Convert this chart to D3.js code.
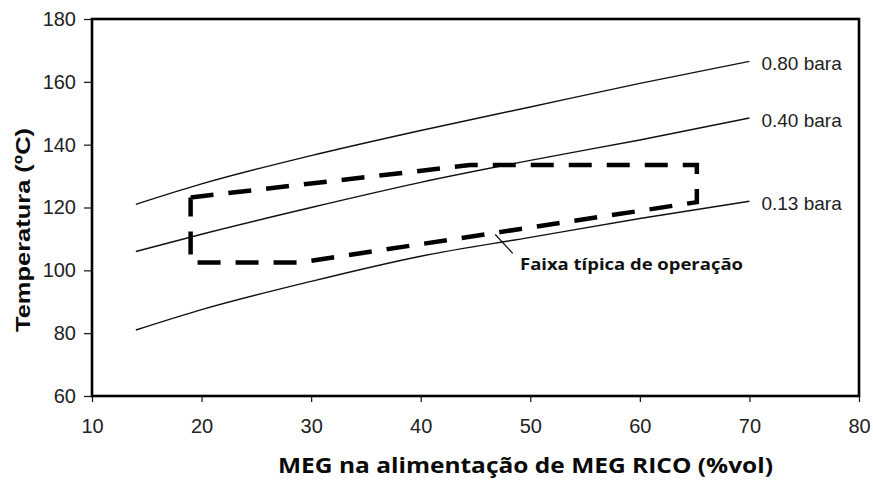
<!DOCTYPE html>
<html>
<head>
<meta charset="utf-8">
<script src="https://cdn.jsdelivr.net/npm/d3@7"></script>
<style>
  html, body { margin: 0; padding: 0; background: #fff; }
  svg { display: block; }
</style>
</head>
<body>
<svg id="chart" width="873" height="481"></svg>
<script>
// MEG concentration in the rich MEG feed (%vol)
const megFeed = [14, 20, 30, 40, 50, 60, 70];

// Boiling temperature (°C) at each pressure
const temp080 = [121, 127.5, 136.5, 144.5, 152, 159.5, 166.5];
const temp040 = [106, 111.5, 120, 128, 135, 141.5, 148.5];
const temp013 = [81, 87.5, 96.5, 104.5, 110.5, 116.5, 122];

const curveLabels = ["0.80 bara", "0.40 bara", "0.13 bara"];

// Typical operating window (closed outline)
const bandX = [19, 44.5, 65.2, 65.2, 29, 19, 19];
const bandY = [123.2, 133.5, 133.5, 121.7, 102.5, 102.5, 123.2];
const bandLabel = "Faixa típica de operação";
const pointerX = [46.8, 48.4];
const pointerY = [111.4, 105.4];

const xTicks = [10, 20, 30, 40, 50, 60, 70, 80];
const yTicks = [60, 80, 100, 120, 140, 160, 180];
const xTitle = "MEG na alimentação de MEG RICO (%vol)";
const yTitle = "Temperatura (ºC)";

const svg = d3.select("#chart");
const plot = { left: 92, right: 859, top: 19, bottom: 396 };

const x = d3.scaleLinear().domain([10, 80]).range([plot.left, plot.right]);
const y = d3.scaleLinear().domain([60, 180]).range([plot.bottom, plot.top]);

// axes
const xAxis = svg.append("g")
  .attr("transform", `translate(0,${plot.bottom})`)
  .call(d3.axisBottom(x).tickValues(xTicks).tickSize(6).tickPadding(17).tickFormat(d3.format("d")));
const yAxis = svg.append("g")
  .attr("transform", `translate(${plot.left},0)`)
  .call(d3.axisLeft(y).tickValues(yTicks).tickSize(8).tickPadding(8).tickFormat(d3.format("d")));

[xAxis, yAxis].forEach(g => {
  g.select(".domain").remove();
  g.selectAll(".tick line").attr("stroke", "#111").attr("stroke-width", 1.2);
  g.selectAll(".tick text")
    .attr("fill", "#222")
    .style("font-family", "'Liberation Sans', Arial, sans-serif")
    .style("font-size", "20px");
});

// plot frame
svg.append("rect")
  .attr("x", plot.left).attr("y", plot.top)
  .attr("width", plot.right - plot.left).attr("height", plot.bottom - plot.top)
  .attr("fill", "none").attr("stroke", "#000").attr("stroke-width", 2.6);

// pressure curves
const line = d3.line().x(d => x(d[0])).y(d => y(d[1])).curve(d3.curveMonotoneX);
const series = [temp080, temp040, temp013];
series.forEach((vals, i) => {
  const pts = megFeed.map((m, j) => [m, vals[j]]);
  svg.append("path")
    .datum(pts)
    .attr("d", line)
    .attr("fill", "none")
    .attr("stroke", "#111")
    .attr("stroke-width", 1.4);
  const last = pts[pts.length - 1];
  svg.append("text")
    .attr("x", x(last[0]) + 12)
    .attr("y", y(last[1]) + 2)
    .attr("dy", "0.35em")
    .attr("fill", "#222")
    .style("font-family", "'Liberation Sans', Arial, sans-serif")
    .style("font-size", "19px")
    .text(curveLabels[i]);
});

// operating window outline
const band = bandX.map((v, i) => [v, bandY[i]]);
svg.append("path")
  .datum(band)
  .attr("d", d3.line().x(d => x(d[0])).y(d => y(d[1])))
  .attr("fill", "none")
  .attr("stroke", "#000")
  .attr("stroke-width", 4.5)
  .attr("stroke-dasharray", "23,15");

// pointer and label for the operating window
svg.append("line")
  .attr("x1", x(pointerX[0])).attr("y1", y(pointerY[0]))
  .attr("x2", x(pointerX[1])).attr("y2", y(pointerY[1]))
  .attr("stroke", "#111").attr("stroke-width", 1.3);
svg.append("text")
  .attr("x", 520).attr("y", 270)
  .attr("textLength", 223).attr("lengthAdjust", "spacingAndGlyphs")
  .attr("fill", "#111")
  .style("font-family", "'Open Sans', sans-serif")
  .style("font-weight", 700)
  .style("font-size", "16px")
  .text(bandLabel);

// axis titles
svg.append("text")
  .attr("x", 525.5).attr("y", 473)
  .attr("text-anchor", "middle")
  .attr("textLength", 495).attr("lengthAdjust", "spacingAndGlyphs")
  .attr("fill", "#0a0a0a")
  .style("font-family", "'Open Sans', sans-serif")
  .style("font-weight", 700)
  .style("font-size", "21px")
  .text(xTitle);

svg.append("text")
  .attr("transform", "translate(30,230) rotate(-90)")
  .attr("text-anchor", "middle")
  .attr("textLength", 204).attr("lengthAdjust", "spacingAndGlyphs")
  .attr("fill", "#0a0a0a")
  .style("font-family", "'Liberation Sans', Arial, sans-serif")
  .style("font-weight", 700)
  .style("font-size", "21px")
  .text(yTitle);
</script>
</body>
</html>
